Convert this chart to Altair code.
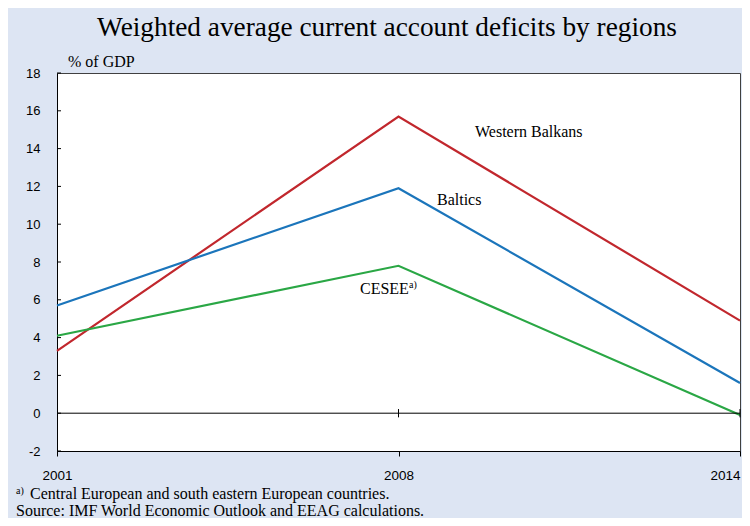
import altair as alt
import pandas as pd

years = ["2001", "2008", "2014"]
western_balkans = [3.3, 15.7, 4.9]
baltics = [5.7, 11.9, 1.6]
cesee = [4.1, 7.8, -0.1]
series_names = ["Western Balkans", "Baltics", "CESEE"]
series_colors = ["#c1272d", "#1b75bb", "#2aa745"]
y_ticks = list(range(-2, 20, 2))
cross_years = ["2008", "2014"]

rows = []
for name, vals in zip(series_names, [western_balkans, baltics, cesee]):
    for yr, v in zip(years, vals):
        rows.append({"year": yr, "value": v, "series": name})
df = pd.DataFrame(rows)

W, H = 683, 378
SERIF = "Liberation Serif"
SANS = "Liberation Sans"

xscale = alt.Scale(domain=years, type="point", padding=0)
yscale = alt.Scale(domain=[-2, 18], nice=False, zero=False)

x_axis = alt.Axis(
    title=None, labelAngle=0, labelFont=SANS, labelFontSize=13.5, labelColor="black",
    tickColor="black", tickSize=5, labelPadding=12, domainColor="black", grid=False,
    labelOverlap=False,
    labelAlign=alt.condition("datum.label == '2014'", alt.value("right"), alt.value("center")))
y_axis = alt.Axis(
    values=y_ticks, title=None, labelFont=SANS, labelFontSize=13, labelColor="black",
    ticks=False, tickSize=0, labelPadding=17, domainColor="black", grid=False,
    labelOverlap=False, labelExpr="'' + datum.value")


def X(field="year:O"):
    return alt.X(field, scale=xscale, axis=x_axis)


def Y(field="value:Q"):
    return alt.Y(field, scale=yscale, axis=y_axis)


lines = alt.Chart(df).mark_line(strokeWidth=2.2).encode(
    x=X(), y=Y(),
    color=alt.Color("series:N", scale=alt.Scale(domain=series_names, range=series_colors), legend=None),
)

zero = alt.Chart(pd.DataFrame({"value": [0]})).mark_rule(color="black", strokeWidth=1).encode(y=Y())

cross = alt.Chart(pd.DataFrame({"year": cross_years, "value": [-0.22] * 2, "v2": [0.22] * 2})).mark_rule(
    color="black", strokeWidth=1).encode(x=X(), y=Y(), y2="v2:Q")

yticks = alt.Chart(pd.DataFrame({"value": y_ticks})).mark_rule(color="black", strokeWidth=1).encode(
    y=Y(), x=alt.value(0), x2=alt.value(4))

one = pd.DataFrame({"k": [0]})


def txt(s, xv, yv, size, font=SERIF, align="left"):
    return alt.Chart(one).mark_text(align=align, baseline="alphabetic", font=font, fontSize=size,
                                    color="black").encode(
        x=alt.value(xv), y=alt.value(yv), text=alt.value(s))


texts = [
    txt("Weighted average current account deficits by regions", 330, -37, 27.3, align="center"),
    txt("% of GDP", 11, -6, 16),
    txt("Western Balkans", 418, 64, 16),
    txt("Baltics", 380, 132, 16),
    txt("CESEE", 303, 221, 16),
    txt("a)", 352, 215, 10),
    txt("a)", -41, 421, 10),
    txt("Central European and south eastern European countries.", -27, 426, 16),
    txt("Source: IMF World Economic Outlook and EEAG calculations.", -41, 443, 16),
]

chart = alt.layer(lines, zero, cross, yticks, *texts).properties(
    width=W, height=H,
    autosize=alt.AutoSizeParams(type="none"),
    padding={"left": 49, "top": 65, "right": 2, "bottom": 67},
    background="#dde5f3",
).configure_view(stroke="#404040", fill="white")

chart.save("out.html", embed_options={"renderer": "svg", "actions": False})
